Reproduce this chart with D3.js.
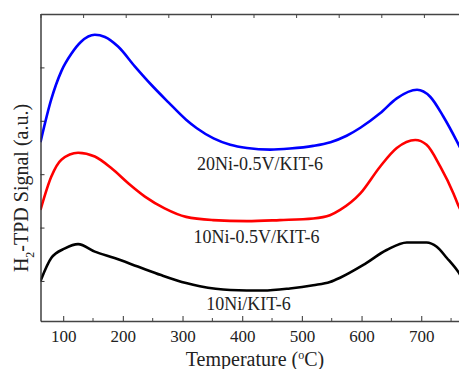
<!DOCTYPE html>
<html>
<head>
<meta charset="utf-8">
<script src="https://cdn.jsdelivr.net/npm/d3@7"></script>
<style>
body{margin:0;background:#fff;}
svg{display:block;}
text{font-family:"Liberation Serif","Times New Roman",serif;fill:#222;}
</style>
</head>
<body>
<svg id="chart" width="459" height="369"></svg>
<script>
// temperatures (degC) and signal (a.u.)
const blueT = [62,80,97,114,130,153,170,192,220,248,276,306,324,352,380,408,447,480,519,548,575,598,631,659,693,715,737,760,765];
const blueV = [2.60,3.40,3.93,4.26,4.48,4.61,4.57,4.39,4.02,3.67,3.35,3.02,2.86,2.67,2.55,2.49,2.46,2.48,2.53,2.60,2.72,2.87,3.14,3.42,3.58,3.45,3.08,2.61,2.5];
const redT = [62,80,97,125,153,181,209,237,270,306,351,408,463,519,547,564,598,631,659,690,709,732,754,762,765];
const redV = [1.33,1.95,2.27,2.40,2.33,2.11,1.83,1.58,1.36,1.20,1.14,1.12,1.14,1.17,1.23,1.33,1.64,2.14,2.49,2.64,2.55,2.14,1.64,1.42,1.35];
const blackT = [62,80,103,125,153,186,225,264,306,329,380,435,480,519,547,564,603,642,676,709,726,743,762,765];
const blackV = [0.0,0.43,0.61,0.69,0.55,0.43,0.27,0.11,-0.04,-0.10,-0.17,-0.18,-0.14,-0.08,-0.02,0.06,0.30,0.58,0.72,0.72,0.64,0.43,0.17,0.12];

const xTicks = [100,200,300,400,500,600,700];
const xMinor = [150,250,350,450,550,650,750];
const yTicks = [0,1,2,3,4,5];

const labels = ['20Ni-0.5V/KIT-6','10Ni-0.5V/KIT-6','10Ni/KIT-6'];
const colors = ['#0000ff','#ff0000','#000000'];

const series = [
  {name: labels[0], color: colors[0], pts: blueT.map((t,i) => [t, blueV[i]])},
  {name: labels[1], color: colors[1], pts: redT.map((t,i) => [t, redV[i]])},
  {name: labels[2], color: colors[2], pts: blackT.map((t,i) => [t, blackV[i]])}
];

const svg = d3.select('#chart');
const padL = 40.5, padT = 14, padB = 321, padR = 463;

const x = d3.scaleLinear().domain([62, 770]).range([padL, padR]);
const y = d3.scaleLinear().domain([-0.75, 5]).range([padB, padT]);

svg.append('clipPath').attr('id','clip')
  .append('rect').attr('x',padL).attr('y',padT).attr('width',padR-padL).attr('height',padB-padT);

const line = d3.line().x(d => x(d[0])).y(d => y(d[1])).curve(d3.curveMonotoneX);

const g = svg.append('g').attr('clip-path','url(#clip)');
series.forEach(s => {
  g.append('path').datum(s.pts)
    .attr('fill','none').attr('stroke',s.color).attr('stroke-width',2.6)
    .attr('stroke-linejoin','round').attr('d', line);
});

// bottom axis, ticks pointing in
const xAxis = svg.append('g').attr('transform',`translate(0,${padB})`)
  .call(d3.axisBottom(x).tickValues(xTicks).tickSizeInner(-5).tickSizeOuter(0).tickPadding(9));
xAxis.append('g').selectAll('line').data(xMinor).enter().append('line')
  .attr('x1', d => x(d)).attr('x2', d => x(d)).attr('y1',0).attr('y2',-3).attr('stroke','#444');
xAxis.select('.domain').attr('stroke','#444').attr('stroke-width',1.3);
xAxis.selectAll('.tick line').attr('stroke','#444').attr('stroke-width',1.1);
xAxis.selectAll('.tick text').style('font-size','17px').style('font-family','"Liberation Serif",serif').attr('fill','#222');

// left axis, no labels
const yAxis = svg.append('g').attr('transform',`translate(${padL},0)`)
  .call(d3.axisLeft(y).tickValues(yTicks).tickSizeInner(-4).tickSizeOuter(0).tickFormat(''));
yAxis.select('.domain').attr('stroke','#333').attr('stroke-width',1.4);
yAxis.selectAll('.tick line').attr('stroke','#333');

// top frame line with its own tick spacing
const xTop = d3.scaleLinear().domain([0,10]).range([padL, padL + 426]);
const topAxis = svg.append('g').attr('transform',`translate(0,${padT})`)
  .call(d3.axisTop(xTop).ticks(10).tickSizeInner(-4).tickSizeOuter(0).tickFormat(''));
topAxis.select('.domain').attr('stroke','#444').attr('stroke-width',1.3);
topAxis.selectAll('.tick line').attr('stroke','#444');

// curve labels
const labelPos = [[260,170],[256.5,243],[248.5,310]];
labels.forEach((l,i) => {
  svg.append('text').attr('x',labelPos[i][0]).attr('y',labelPos[i][1])
    .attr('text-anchor','middle').style('font-size','18px').text(l);
});

// axis titles
const xt = svg.append('text').attr('x',255).attr('y',366).attr('text-anchor','middle').style('font-size','20px');
xt.append('tspan').text('Temperature (');
xt.append('tspan').attr('dy',-7).style('font-size','12px').text('o');
xt.append('tspan').attr('dy',7).text('C)');

const yt = svg.append('text').attr('transform','translate(28,188) rotate(-90)')
  .attr('text-anchor','middle').style('font-size','20px');
yt.append('tspan').text('H');
yt.append('tspan').attr('dy',6).style('font-size','12px').text('2');
yt.append('tspan').attr('dy',-6).text('-TPD Signal (a.u.)');
</script>
</body>
</html>
